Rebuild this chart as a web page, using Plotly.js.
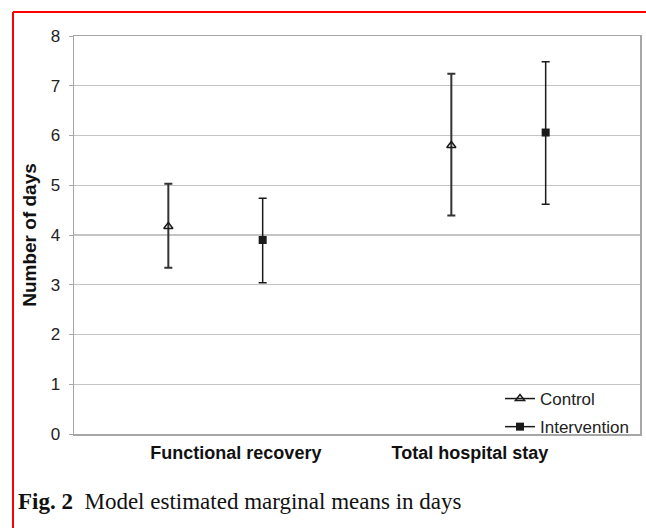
<!DOCTYPE html>
<html>
<head>
<meta charset="utf-8">
<script src="https://cdn.plot.ly/plotly-3.0.1.min.js"></script>
<style>
  html, body { margin: 0; padding: 0; background: #fff; }
  #chart { width: 646px; height: 528px; }
</style>
</head>
<body>
<div id="chart"></div>
<script>
// Data
const categories = ["Functional recovery", "Total hospital stay"];
const seriesNames = ["Control", "Intervention"];
const controlMean = [4.17, 5.80];
const controlUpper = [5.03, 7.24];
const controlLower = [3.34, 4.39];
const interventionMean = [3.90, 6.06];
const interventionUpper = [4.74, 7.48];
const interventionLower = [3.04, 4.62];
const yTicks = [0, 1, 2, 3, 4, 5, 6, 7, 8];

const catIndex = categories.map((c, i) => i);
const offset = 1 / 6;
const diffUp = (m, u) => m.map((v, i) => +(u[i] - v).toFixed(3));
const diffDown = (m, l) => m.map((v, i) => +(v - l[i]).toFixed(3));

const ink = "#1a1a1a";
const fontSans = "Liberation Sans, Arial, sans-serif";

const traces = [
  {
    x: catIndex.map(i => i - offset), y: controlMean,
    type: "scatter", mode: "markers", name: seriesNames[0], showlegend: false,
    marker: { symbol: "triangle-up-open", size: 8, color: ink, line: { width: 1.5, color: ink } },
    error_y: { type: "data", symmetric: false, array: diffUp(controlMean, controlUpper),
               arrayminus: diffDown(controlMean, controlLower), color: "#333", thickness: 2, width: 4 }
  },
  {
    x: catIndex.map(i => i + offset), y: interventionMean,
    type: "scatter", mode: "markers", name: seriesNames[1], showlegend: false,
    marker: { symbol: "square", size: 8, color: ink },
    error_y: { type: "data", symmetric: false, array: diffUp(interventionMean, interventionUpper),
               arrayminus: diffDown(interventionMean, interventionLower), color: ink, thickness: 1.5, width: 4 }
  },
  {
    x: [null], y: [null], type: "scatter", mode: "lines+markers", name: seriesNames[0],
    legendgroup: "a", line: { color: ink, width: 1.5 },
    marker: { symbol: "triangle-up-open", size: 8, color: ink, line: { width: 1.5, color: ink } }
  },
  {
    x: [null], y: [null], type: "scatter", mode: "lines+markers", name: seriesNames[1],
    legendgroup: "b", line: { color: ink, width: 1.5 },
    marker: { symbol: "square", size: 8, color: ink }
  }
];

// pixel helpers for decorations outside the plot (plot area 74..640 x 36..434)
const L = 74, R = 640, T = 36, B = 434;
const px = v => (v - L) / (R - L);
const py = v => (B - v) / (B - T);

const layout = {
  width: 646, height: 528,
  margin: { l: L, r: 646 - R, t: T, b: 528 - B, pad: 0 },
  paper_bgcolor: "#fff", plot_bgcolor: "#fff",
  font: { family: fontSans, color: "#222", size: 17 },
  showlegend: true,
  legend: {
    x: px(634), xanchor: "right", y: py(445), yanchor: "bottom",
    bgcolor: "rgba(0,0,0,0)", font: { size: 17, color: "#222" },
    traceorder: "grouped", tracegroupgap: 3
  },
  xaxis: {
    range: [-0.5, 1.5], showgrid: false, zeroline: false,
    tickmode: "array", tickvals: [0.072, 0.899], ticktext: categories,
    tickfont: { size: 18, color: "#111", family: fontSans, weight: "bold" },
    ticks: "", ticklabelstandoff: 2,
    showline: true, linecolor: "#a6a6a6", linewidth: 1.5, mirror: true,
    fixedrange: true
  },
  yaxis: {
    range: [0, 8], tickmode: "array", tickvals: yTicks,
    showgrid: true, gridcolor: "#c4c4c4", gridwidth: 1.2, zeroline: false,
    ticks: "outside", ticklen: 4, tickcolor: "#a6a6a6", tickwidth: 1, ticklabelstandoff: 5,
    showline: true, linecolor: "#a6a6a6", linewidth: 1.5, mirror: true,
    tickfont: { size: 17, color: "#222" },
    title: { text: "Number of days", font: { size: 19, color: "#111", family: fontSans, weight: "bold" }, standoff: 9 },
    fixedrange: true
  },
  shapes: [
    { type: "line", xref: "paper", yref: "paper", x0: px(13), x1: px(648), y0: py(12), y1: py(12),
      line: { color: "#ff0000", width: 2 } },
    { type: "line", xref: "paper", yref: "paper", x0: px(13), x1: px(13), y0: py(12), y1: py(530),
      line: { color: "#ff0000", width: 2 } }
  ],
  annotations: [
    { xref: "paper", yref: "paper", x: px(16), y: py(501), xanchor: "left", yanchor: "middle",
      showarrow: false, align: "left",
      text: "<b>Fig. 2</b>  Model estimated marginal means in days",
      font: { family: "Liberation Serif, Times New Roman, serif", size: 23, color: "#111" } }
  ]
};

Plotly.newPlot("chart", traces, layout, { displayModeBar: false, staticPlot: true });
</script>
</body>
</html>
